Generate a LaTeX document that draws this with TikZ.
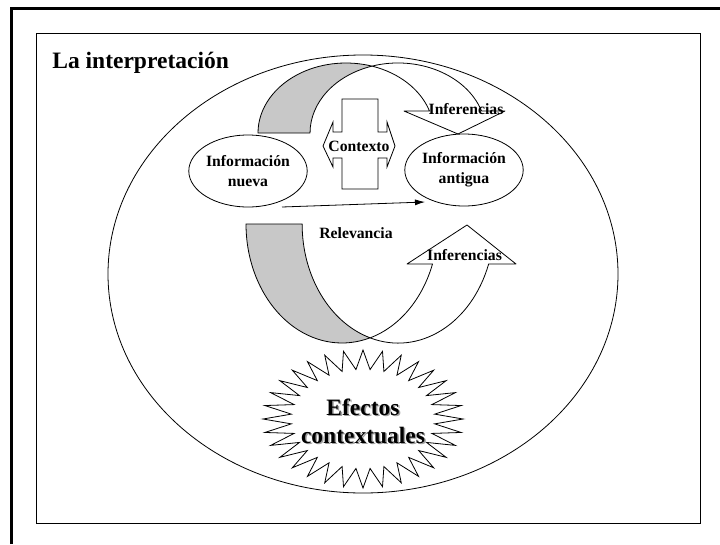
\documentclass[tikz,border=0pt]{standalone}
\usepackage{fontspec}
\setmainfont{Liberation Serif}
\usetikzlibrary{shapes.geometric,arrows.meta}
\definecolor{bandgray}{RGB}{200,200,200}
\definecolor{shadowgray}{RGB}{160,160,160}
\tikzset{
  lbl/.style={font=\fontsize{15.7}{20}\selectfont\bfseries, align=center, inner sep=0pt},
  biglbl/.style={font=\fontsize{23.5}{28}\selectfont\bfseries, align=center, inner sep=0pt},
  infobox/.style={draw, ellipse, fill=white, minimum width=112pt, minimum height=72pt, inner sep=0pt, lbl},
  band/.style={draw, line join=round},
}

\begin{document}
\begin{tikzpicture}[x=1pt, y=-1pt, line width=0.8pt]
    \useasboundingbox (0,0) rectangle (720,544);

    % marcos
    \draw [line width=3pt] (11,544) -- (11,8) -- (720,8);
    \draw (36,33) rectangle (700,523);
    \node [biglbl, anchor=base west] (titulo) at (52,68) {La interpretación};

    \draw (363,274) ellipse [x radius=255, y radius=219];

    % flecha curva de arriba
    \draw [band, fill=bandgray] (258,133)
        arc [start angle=180, end angle=287.2, x radius=88, y radius=70]
        arc [start angle=252.8, end angle=180, x radius=88, y radius=70] -- cycle;
    \draw [band, fill=white] (429.5,111)
        arc [start angle=341.7, end angle=287.2, x radius=88, y radius=70]
        arc [start angle=252.8, end angle=341.7, x radius=88, y radius=70]
        -- (505,111) -- (458,134) -- (404,111) -- cycle;

    % contexto
    \draw [fill=white, line join=miter] (342,99) -- (378,99) -- (378,132) -- (387,132)
        -- (387,122) -- (395,146) -- (387,167) -- (387,158) -- (378,158)
        -- (378,189) -- (342,189) -- (342,158) -- (333,158) -- (333,167)
        -- (323,146) -- (333,122) -- (333,132) -- (342,132) -- cycle;

    \node [infobox] (nueva) at (248,171) {Información\\nueva};
    \node [infobox] (antigua) at (464,170) {Información\\antigua};
    \node [lbl] (contexto) at (359,146) {Contexto};
    \node [lbl] (inferArriba) at (466,109) {Inferencias};

    \coordinate (relA) at (282,207);
    \coordinate (relB) at (425,202);
    \draw [-{Latex[length=10pt,width=6pt]}] (relA) -- (relB);

    % flecha curva de abajo
    \draw [band, fill=bandgray] (246,224)
        arc [start angle=180, end angle=73, x radius=96, y radius=119]
        arc [start angle=107, end angle=180, x radius=96, y radius=119] -- cycle;
    \draw [band, fill=white] (432.5,264)
        arc [start angle=19.6, end angle=73, x radius=96, y radius=119]
        arc [start angle=107, end angle=19.6, x radius=96, y radius=119]
        -- (516,264) -- (467,225) -- (407,264) -- cycle;

    \node [lbl] (relevancia) at (356,233) {Relevancia};
    \node [lbl] (inferAbajo) at (464.5,255) {Inferencias};

    % estrella
    \draw [fill=white] (463,419)
        \foreach \i [evaluate=\i as \rr using {isodd(\i) ? 0.72 : 1}] in {1,...,63} {
            -- ({363+100*\rr*cos(5.625*\i)}, {419+69*\rr*sin(5.625*\i)})
        } -- cycle;
    \node [biglbl, text=shadowgray] (efectosSombra) at (364.5,422.5) {Efectos\\contextuales};
    \node [biglbl] (efectos) at (363,421) {Efectos\\contextuales};

\end{tikzpicture}
\end{document}
